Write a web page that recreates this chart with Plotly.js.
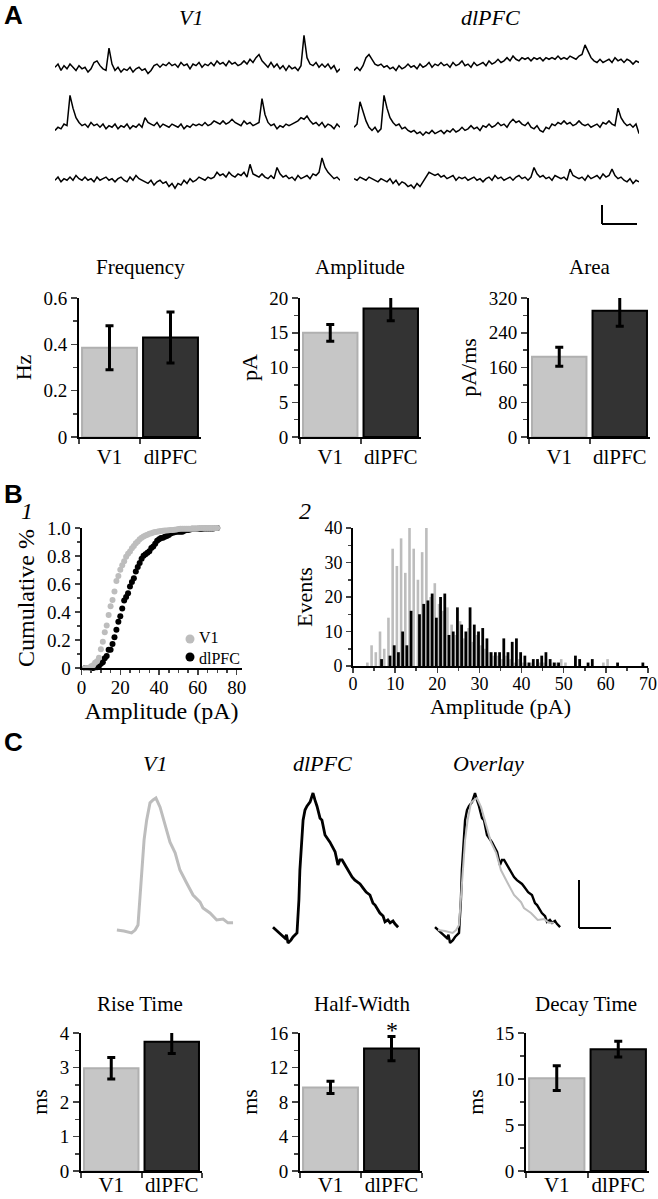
<!DOCTYPE html>
<html>
<head>
<meta charset="utf-8">
<script src="https://cdn.plot.ly/plotly-3.0.1.min.js"></script>
<style>
  body { margin: 0; background: #fff; }
  #fig { width: 658px; height: 1199px; }
</style>
</head>
<body>
<div id="fig"></div>
<script>
// ---- data ----
const groups = ["V1", "dlPFC"];

const freqMean = [0.385, 0.43], freqErr = [0.095, 0.11];
const ampMean = [15.0, 18.5], ampErr = [1.2, 1.75];
const areaMean = [185, 291], areaErr = [22, 36];
const riseMean = [2.98, 3.75], riseErr = [0.31, 0.34];
const halfMean = [9.7, 14.2], halfErr = [0.7, 1.4];
const decayMean = [10.1, 13.25], decayErr = [1.35, 0.85];

// example sEPSC traces (panel A), arbitrary pA units
const v1Row1 = [0, 1, -1, 0.5, -0.5, 1, 0, -1, 0.5, -0.5, 0, -1.5, -0.5, 1.5, 2, 0.5, -0.5, -1, 6, 1,
  -1, 0, -1.5, -0.5, -1, 0, -1.5, -0.5, 0, -1, -0.5, -2, -1, 0.5, 1, 0, 1, 0.5, 1.5, 0.5,
  1, 0, 1.5, 0.5, 1, -0.5, 1, 0.5, 1.5, 0, 1, 0.5, 1.5, 0.5, 2, 1, 1.5, 0.5, 2, 1,
  1.5, 0.5, 1, 2, 1, 2.5, 1.5, 3, 4, 2, 1, 0, 1.5, 0, 1, -0.5, 0.5, -1, 0.5, -0.5,
  0, -1, 0.5, 10, 3, 1, 0.5, 1.5, 0, 1, 0, 1, -0.5, 0.5, -1.5, -0.5];
const dlRow1 = [-1, 0, -1, 0.5, 3, 4, 2.5, 1, 0.5, 1, 0, 0.5, -0.5, 0, -1, 0.5, -0.5, 0, 1, 0,
  0.5, -0.5, 1, 0, 0.5, 1.5, 0, 1, 0.5, 1.5, 0.5, 1, 0, 1.5, 0.5, 1, 2, 0.5, 1, 0,
  1.5, 0.5, 1, 1.5, 0.5, 2, 1, 1.5, 2.5, 1.5, 2, 3, 2, 3.5, 2.5, 2, 3, 2.5, 3, 2,
  3, 2.5, 3, 2, 3, 2.5, 3, 2.5, 3.5, 2.5, 3, 2.5, 3.5, 3, 2.5, 3.5, 4, 7, 5, 3,
  2, 1.5, 2.5, 1.5, 2, 2.5, 1.5, 3, 2, 2.5, 1.5, 2.5, 2, 1, 2, 1.5];
const v1Row2 = [-1, 0, -0.5, 1, 0.5, 10, 6, 3, 1.5, 0.5, 1, 0, 1.5, 0.5, 1, 0, 1, -0.5, 0.5, 0,
  1, -0.5, 0.5, 0, 1, -0.5, 0.5, 0, 1, 0, 3, 1.5, 1, 0.5, 1.5, 0, 1, 0.5, 0, 1,
  0.5, 0, 1, -0.5, 0.5, 0, 1, 0.5, 1, 0.5, 1.5, 0.5, 1, 2, 1.5, 1, 2, 1, 1.5, 2.5,
  1.5, 1, 0.5, 2, 1, 1.5, 0.5, 1, 1.5, 9, 4, 1.5, 0.5, 1, -0.5, 0.5, 0, 1, 0.5, 1,
  1.5, 2, 3, 2.5, 3.5, 2, 1, 1.5, 0.5, 1.5, 0, 1, 0.5, -0.5, 1, 0];
const dlRow2 = [0, 1, 8, 5, 2, 0, -1, 0, -1.5, -0.5, 10, 6, 3, 1.5, 0.5, 1, -0.5, 0, -1, -1.5,
  -1, -2, -1.5, -2.5, -1.5, -2, -1, -2, -1.5, -1, -2, -1, -1.5, -0.5, -1.5, -1, 0, -1, -0.5, 0.5,
  -0.5, 0, -1, 0.5, 0, 1, 0, 0.5, 1.5, 0.5, 1, 0, 1.5, 2.5, 1.5, 2, 1, 0.5, 1.5, 0,
  -0.5, 0.5, -1, -1.5, 0, -0.5, 1, 0.5, 1.5, 1, 2, 1, 1.5, 0.5, 1, 2, 1, 0.5, 1, 0,
  0.5, 1, 0, 1.5, 1, 2, 1, 0.5, 6, 3, 1.5, 0.5, 1, 0, 1, -2];
const v1Row3 = [0, 1, -0.5, 0.5, 0, 1, 0, 1.5, 0.5, 0, 1, 0, 0.5, -0.5, 1, 0, 0.5, 1, 0, 0.5,
  -0.5, 0.5, 1, 0, -0.5, 1, 0, 1.5, 0.5, 0, -0.5, -1, 0, -1.5, -0.5, 0, -1, -0.5, -2, -1,
  -2.5, -1, -1.5, 0, -1, 0.5, -0.5, 0, 1, 0.5, 0, 1, 0.5, 1, 2.5, 1.5, 2, 1, 2.5, 1.5,
  1, 2, 1.5, 2.5, 1, 5, 2, 1.5, 1, 2, 1, 0.5, 1.5, 0.5, 4, 2, 1, 1.5, 0.5, 1,
  0, 1.5, 0.5, 1, 1.5, 0.5, 2, 1.5, 2.5, 7, 4, 2.5, 1.5, 0.5, 1, 0];
const dlRow3 = [0.5, 0, 1, 0.5, 0, 1, 0.5, 0, -0.5, 0.5, 0, -0.5, 0.5, -1, 0, -1.5, -0.5, -1, -2, -1.5,
  -2.5, -1, -2, -0.5, 1, 2.5, 2, 1.5, 2, 1, 1.5, 0.5, 1, 1.5, 0, 1, 0.5, 1, 0, 0.5,
  1, 0, 0.5, -0.5, 0.5, 1, 0, 1.5, 0.5, 1, 0, 0.5, 1, 0, 1, 1.5, 0.5, 1, 0, 1,
  4, 2, 1, 1.5, 0.5, 1, 0, 1.5, 1, 0.5, 1, 0, 3.5, 1.5, 1, 0.5, 1, 0, 1.5, 0.5,
  1, 1.5, 0.5, 2, 1, 1.5, 3.5, 1.5, 0.5, 1, 0, -0.5, 0.5, -1, 0, -0.5];

// amplitude histogram (panel B2), 1 pA bins starting at histBins[i]
const histBins = [1, 2, 3, 4, 5, 6, 7, 8, 9, 10, 11, 12, 13, 14, 15, 16, 17, 18, 19, 20,
  21, 22, 23, 24, 25, 26, 27, 28, 29, 30, 31, 32, 33, 34, 35, 36, 37, 38, 39, 40,
  41, 42, 43, 44, 45, 46, 47, 48, 49, 50, 51, 52, 53, 54, 55, 56, 57, 58, 59, 60,
  61, 62, 63, 64, 65, 66, 67, 68, 69];
const histV1 = [0, 0, 1, 6, 4, 10, 5, 14, 34, 29, 37, 27, 41, 34, 25, 33, 41, 20, 24, 18,
  16, 17, 12, 9, 13, 8, 11, 7, 9, 6, 5, 4, 3, 3, 2, 3, 2, 1, 2, 1,
  1, 1, 0, 1, 1, 0, 1, 1, 2, 1, 0, 0, 0, 0, 0, 0, 0, 0, 1, 2,
  0, 0, 0, 0, 0, 0, 0, 0, 0];
const histDl = [0, 0, 0, 0, 0, 2, 0, 3, 6, 4, 10, 6, 16, 0, 15, 18, 19, 21, 14, 20,
  21, 9, 10, 17, 12, 10, 17, 12, 10, 11, 8, 4, 4, 4, 8, 4, 7, 8, 4, 3,
  1, 2, 2, 3, 4, 2, 1, 1, 0, 0, 0, 3, 2, 0, 1, 2, 0, 0, 0, 0,
  0, 1, 0, 0, 0, 0, 0, 1, 0];

// average events (panel C): time in ms from onset, amplitude in pA
const evTimeV1 = [-6.6, -4.4, -2.0, -0.9, 0, 0.9, 1.9, 2.7, 3.75, 4.7, 5.6, 6.9, 8.4, 10, 11.6,
  13.1, 15.2, 17.2, 19.4, 20.3, 22.5, 24.6, 26.6, 28.1, 29.7];
const evAmpV1 = [0.2, 0, -0.4, 0.2, 1.25, 10.6, 19, 23.1, 26.7, 27.3, 27.7, 25.8, 22.5, 18.5, 16.3,
  12.7, 10, 7.5, 6, 4.8, 3.75, 2.3, 2.5, 1.7, 1.7];
const evTimeDl = [-7.5, -6.25, -5.3, -4.4, -3.75, -3.3, -2.8, -1.9, -1.25, 0, 0.6, 0.9, 1.6, 1.9, 2.5,
  3.1, 4.1, 5, 5.6, 6.25, 7.2, 7.8, 8.75, 10.3, 11.25, 11.9, 12.8, 13.4, 14.1, 15.6,
  16.6, 17.2, 18.1, 18.75, 19.7, 20.6, 21.6, 22.8, 23.75, 24.4, 25.9, 26.9, 27.5, 28.4, 29.1,
  30, 30.6, 31.6];
const evAmpDl = [0.8, 0, -0.4, -1, -1.5, -0.8, -2.5, -1.9, -1.25, -0.4, 6.5, 12.7, 20, 23.1, 25.2,
  26, 26.9, 28.75, 27.3, 26, 23.5, 23.1, 20, 18.5, 17.3, 16.5, 13.75, 14.8, 14.8, 13.1,
  11.7, 11.25, 10.6, 10.2, 9.8, 9, 8.1, 7.5, 5.8, 5.4, 3.75, 3.1, 1.9, 2.3, 1.7,
  2.1, 1.5, 0.8];

const cumTickVals = [0, 0.2, 0.4, 0.6, 0.8, 1.0];
const cumTickText = ["0", "0.2", "0.4", "0.6", "0.8", "1.0"];

// ---- layout helpers ----
const W = 658, H = 1199;
const SERIF = "Liberation Serif, Times New Roman, serif";
const SANS = "Liberation Sans, Arial, sans-serif";
const GRAY = "#bdbdbd";

const xd = (a, b) => [a / W, b / W];
const yd = (top, bottom) => [1 - bottom / H, 1 - top / H];
const id = n => (n === 1 ? "" : String(n));

const traces = [];
const layout = {
  width: W, height: H,
  margin: { l: 0, r: 0, t: 0, b: 0 },
  paper_bgcolor: "#fff", plot_bgcolor: "rgba(0,0,0,0)",
  font: { family: SERIF, color: "#000" },
  barmode: "overlay",
  showlegend: false,
  annotations: [],
  shapes: []
};

function hiddenAxes(n, xdom, ydom, xr, yr) {
  layout["xaxis" + id(n)] = { domain: xdom, range: xr, visible: false, anchor: "y" + id(n) };
  layout["yaxis" + id(n)] = { domain: ydom, range: yr, visible: false, anchor: "x" + id(n) };
}

function line(n, x, y, color, width) {
  const t = { type: "scatter", mode: "lines", y, xaxis: "x" + id(n), yaxis: "y" + id(n),
    line: { color, width }, showlegend: false, hoverinfo: "skip" };
  if (x) t.x = x;
  traces.push(t);
}

function barPanel(n, x0, x1, top, bottom, yMax, dtick, minor, yTitle, means, errs, labelShift) {
  layout["xaxis" + id(n)] = {
    domain: xd(x0, x1), anchor: "y" + id(n), type: "category", range: [-0.5, 1.5],
    showline: true, linewidth: 2, linecolor: "#000", ticks: "outside", tickson: "boundaries",
    ticklen: 5, tickwidth: 2, tickfont: { size: 21 }, tickangle: 0, showgrid: false,
    ticklabelstandoff: labelShift || 0
  };
  layout["yaxis" + id(n)] = {
    domain: yd(top, bottom), anchor: "x" + id(n), range: [0, yMax * 1.0005], dtick,
    showline: true, linewidth: 2, linecolor: "#000", ticks: "outside", ticklen: 6, tickwidth: 1.5,
    minor: { dtick: minor, ticks: "outside", ticklen: 4, tickwidth: 1.5 },
    showgrid: false, zeroline: false, tickfont: { size: 19 },
    title: { text: yTitle, font: { size: 22 }, standoff: 6 }
  };
  traces.push({
    type: "bar", x: groups, y: means, xaxis: "x" + id(n), yaxis: "y" + id(n), width: 0.9,
    marker: { color: ["#c6c6c6", "#333333"], line: { color: ["#b0b0b0", "#000"], width: 2 } },
    error_y: { type: "data", array: errs, visible: true, color: "#000", thickness: 3, width: 4 },
    showlegend: false, hoverinfo: "skip"
  });
}

function label(text, x, y, size, family, anchor) {
  layout.annotations.push({ text, x: x / W, y: 1 - y / H, xref: "paper", yref: "paper",
    xanchor: anchor || "center", yanchor: "middle", align: anchor || "center", showarrow: false,
    font: { size, family: family || SERIF, color: "#000" } });
}

function bar(x0, y0, x1, y1) {
  layout.shapes.push({ type: "line", xref: "paper", yref: "paper",
    x0: x0 / W, x1: x1 / W, y0: 1 - y0 / H, y1: 1 - y1 / H, line: { color: "#000", width: 2 } });
}

function legendDot(x, y, r, color) {
  layout.shapes.push({ type: "circle", xref: "paper", yref: "paper",
    x0: (x - r) / W, x1: (x + r) / W, y0: 1 - (y + r) / H, y1: 1 - (y - r) / H,
    fillcolor: color, line: { width: 0 } });
}

// ---- panel A: traces ----
const rowTops = [[29, 80], [89, 140], [142, 193]];
const rowData = [[v1Row1, dlRow1], [v1Row2, dlRow2], [v1Row3, dlRow3]];
rowData.forEach((pair, r) => {
  pair.forEach((ys, c) => {
    const n = r * 2 + c + 1;
    const xdom = c === 0 ? xd(55, 340) : xd(354, 639);
    hiddenAxes(n, xdom, yd(rowTops[r][0], rowTops[r][1]), [0, ys.length - 1], [-4, 12]);
    line(n, null, ys, "#000", 1.5);
  });
});
bar(602, 205, 602, 224);
bar(602, 224, 637, 224);

label("<b>A</b>", 13, 15, 26, SANS);
label("<i>V1</i>", 191, 17, 22);
label("<i>dlPFC</i>", 490, 17, 22);

// ---- panel A: bar charts ----
barPanel(7, 79, 201, 298, 437, 0.6, 0.2, 0.1, "Hz", freqMean, freqErr);
barPanel(8, 300, 421, 298, 437, 20, 5, 2.5, "pA", ampMean, ampErr);
barPanel(9, 529, 650, 298, 437, 320, 80, 40, "pA/ms", areaMean, areaErr);
label("Frequency", 140, 267, 21);
label("Amplitude", 360, 267, 21);
label("Area", 589, 267, 21);

// ---- panel B1: cumulative distributions ----
function cumulative(counts) {
  const total = counts.reduce((a, b) => a + b, 0);
  let run = 0;
  return counts.map(c => (run += c) / total);
}
const cdfX = histBins.map(k => k + 1);

layout.xaxis10 = {
  domain: xd(81.5, 241.5), anchor: "y10", range: [0, 82.5], dtick: 20,
  showline: true, linewidth: 2, linecolor: "#000", ticks: "outside", ticklen: 5, tickwidth: 1.5,
  minor: { dtick: 5, ticks: "outside", ticklen: 3, tickwidth: 1.5 },
  showgrid: false, zeroline: false, tickfont: { size: 19 }, ticklabelstandoff: -4,
  title: { text: "Amplitude (pA)", font: { size: 24 }, standoff: 2 }
};
layout.yaxis10 = {
  domain: yd(528, 668), anchor: "x10", range: [0, 1],
  tickvals: cumTickVals, ticktext: cumTickText,
  showline: true, linewidth: 2, linecolor: "#000", ticks: "outside", ticklen: 5, tickwidth: 1.5,
  minor: { dtick: 0.1, ticks: "outside", ticklen: 3, tickwidth: 1.5 },
  showgrid: false, zeroline: false, tickfont: { size: 19 },
  title: { text: "Cumulative %", font: { size: 24 }, standoff: 6 }
};
traces.push({ type: "scatter", mode: "markers", name: "dlPFC", x: cdfX, y: cumulative(histDl),
  xaxis: "x10", yaxis: "y10", marker: { color: "#000", size: 6 }, cliponaxis: false,
  showlegend: false, hoverinfo: "skip" });
traces.push({ type: "scatter", mode: "markers", name: "V1", x: cdfX, y: cumulative(histV1),
  xaxis: "x10", yaxis: "y10", marker: { color: GRAY, size: 6 }, cliponaxis: false,
  showlegend: false, hoverinfo: "skip" });

// legend keys for B1
legendDot(190, 639, 4.5, GRAY);
legendDot(190, 657, 4.5, "#000");
label(groups.join("<br>"), 197, 648, 16, SERIF, "left");

label("<b>B</b>", 13, 494, 26, SANS);
label("<i>1</i>", 27, 511, 24);

// ---- panel B2: histogram ----
layout.xaxis11 = {
  domain: xd(353, 648), anchor: "y11", range: [0, 70], dtick: 10,
  showline: true, linewidth: 2, linecolor: "#000", ticks: "outside", ticklen: 5, tickwidth: 1.5,
  minor: { dtick: 5, ticks: "outside", ticklen: 3, tickwidth: 1.5 },
  showgrid: false, zeroline: false, tickfont: { size: 18 }, ticklabelstandoff: -5,
  title: { text: "Amplitude (pA)", font: { size: 22 }, standoff: 0 }
};
layout.yaxis11 = {
  domain: yd(528, 666), anchor: "x11", range: [0, 40], dtick: 10,
  showline: true, linewidth: 2, linecolor: "#000", ticks: "outside", ticklen: 5, tickwidth: 1.5,
  minor: { dtick: 5, ticks: "outside", ticklen: 3, tickwidth: 1.5 },
  showgrid: false, zeroline: false, tickfont: { size: 18 },
  title: { text: "Events", font: { size: 22 }, standoff: 6 }
};
traces.push({ type: "bar", x: histBins, y: histV1, xaxis: "x11", yaxis: "y11",
  offset: 0.1, width: 0.62, marker: { color: GRAY }, showlegend: false, hoverinfo: "skip" });
traces.push({ type: "bar", x: histBins, y: histDl, xaxis: "x11", yaxis: "y11",
  offset: 0.45, width: 0.66, marker: { color: "#000" }, showlegend: false, hoverinfo: "skip" });
label("<i>2</i>", 305, 511, 24);

// ---- panel C: average events ----
const evY = yd(787, 945.4), evYr = [-3, 30], evXr = [-8, 32];
hiddenAxes(12, xd(112.4, 240.4), evY, evXr, evYr);
hiddenAxes(13, xd(271.4, 399.4), evY, evXr, evYr);
hiddenAxes(14, xd(433.4, 561.4), evY, evXr, evYr);
line(12, evTimeV1, evAmpV1, GRAY, 3);
line(13, evTimeDl, evAmpDl, "#000", 2.8);
line(14, evTimeDl, evAmpDl, "#000", 2.4);
line(14, evTimeV1, evAmpV1, GRAY, 2);
bar(579, 880, 579, 928);
bar(579, 928, 611, 928);

label("<b>C</b>", 13, 742, 26, SANS);
label("<i>V1</i>", 155, 763, 22);
label("<i>dlPFC</i>", 322, 763, 22);
label("<i>Overlay</i>", 488, 763, 22);

// ---- panel C: bar charts ----
barPanel(15, 81, 202, 1033, 1171, 4, 1, 0.5, "ms", riseMean, riseErr, -6);
barPanel(16, 300, 422, 1033, 1171, 16, 4, 2, "ms", halfMean, halfErr, -6);
barPanel(17, 526, 649, 1033, 1171, 15, 5, 2.5, "ms", decayMean, decayErr, -6);
label("Rise Time", 140, 1004, 21);
label("Half-Width", 362, 1004, 21);
label("Decay Time", 586, 1004, 21);
layout.annotations.push({ text: "*", xref: "x16", yref: "y16", x: "dlPFC",
  y: halfMean[1] + halfErr[1], yanchor: "bottom", yshift: -8, showarrow: false,
  font: { size: 24, family: SERIF, color: "#000" } });

Plotly.newPlot("fig", traces, layout, { staticPlot: true, displayModeBar: false });
</script>
</body>
</html>
